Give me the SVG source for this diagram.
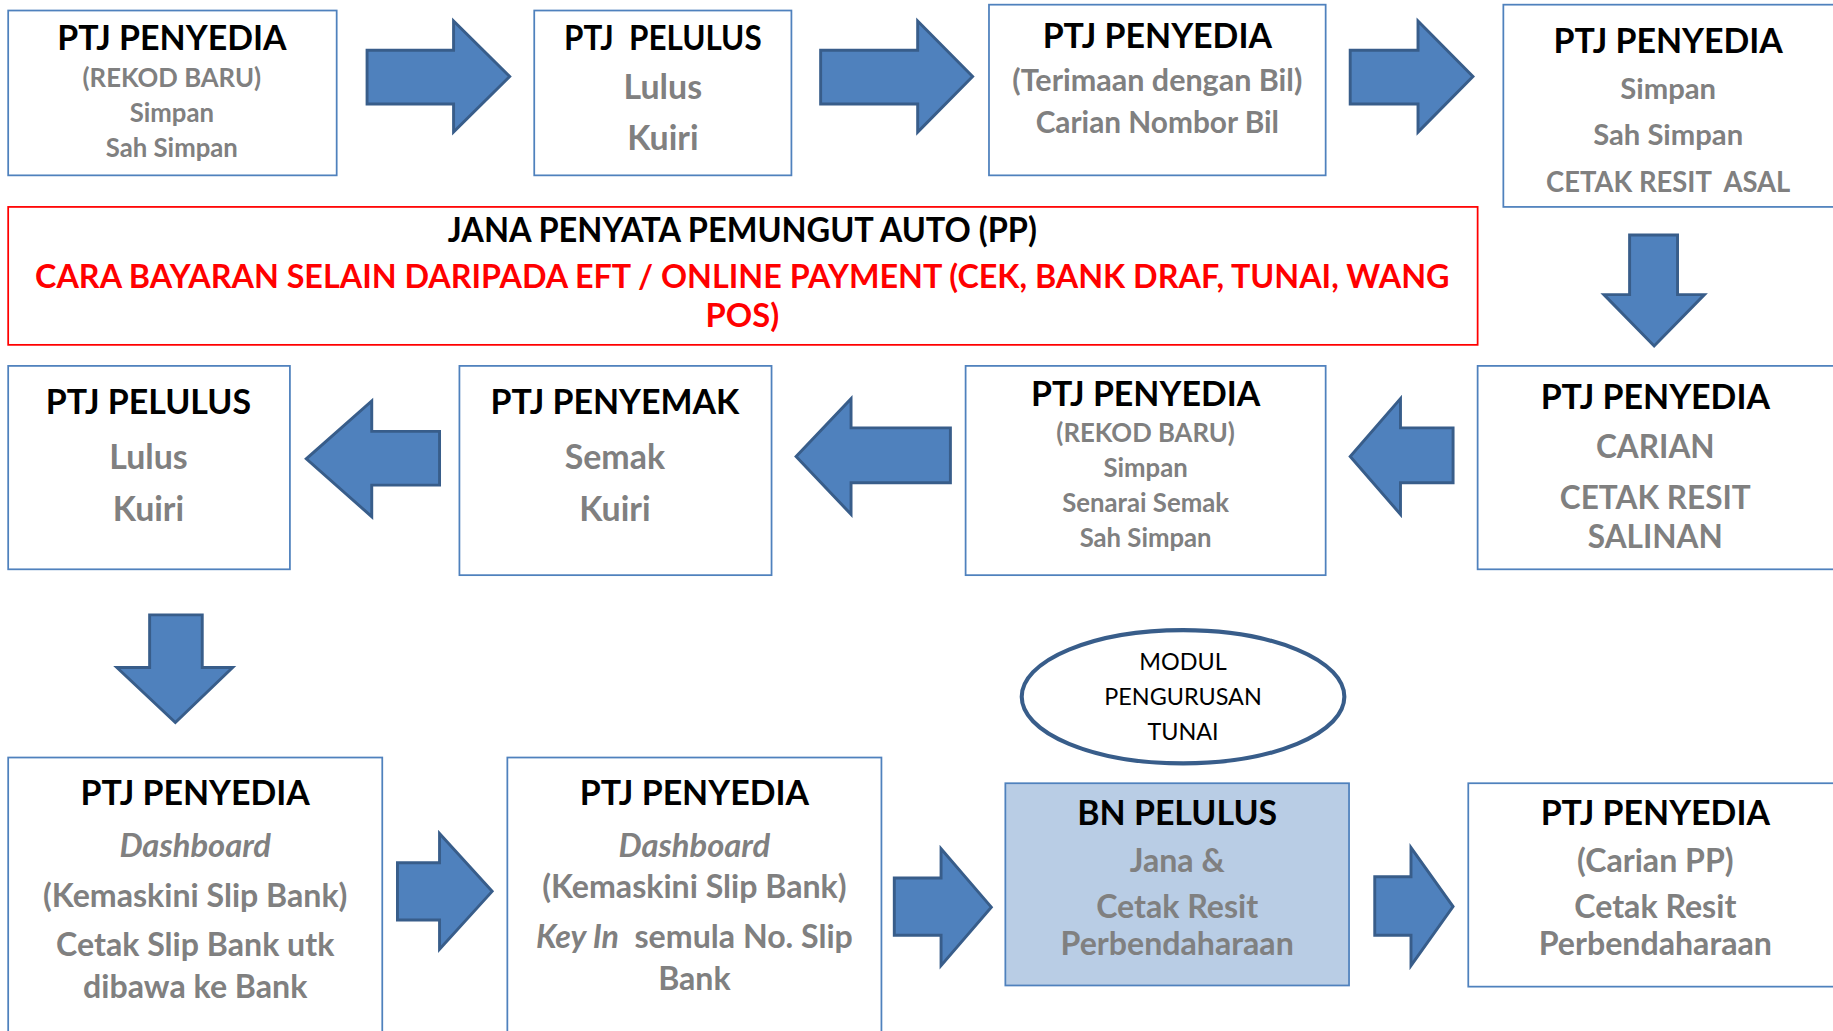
<svg xmlns="http://www.w3.org/2000/svg" width="1833" height="1031" viewBox="0 0 1833 1031">
<defs>
<style>
.box{fill:#ffffff;stroke:#4f81bd;stroke-width:1.5}
.boxk{fill:#b9cde5;stroke:#4f81bd;stroke-width:1.5}
.arr{fill:#4f81bd;stroke:#385d8a;stroke-width:2.5;stroke-linejoin:miter}
.t{font-family:Lato,"Open Sans","Liberation Sans",sans-serif;font-weight:700;fill:#000000;font-size:29px;text-anchor:middle}
.g{font-family:Lato,"Open Sans","Liberation Sans",sans-serif;font-weight:700;fill:#808080;text-anchor:middle}
.r{font-family:Lato,"Open Sans","Liberation Sans",sans-serif;font-weight:700;fill:#ff0000;font-size:28px;text-anchor:middle}
.e{font-family:Lato,"Open Sans","Liberation Sans",sans-serif;font-weight:400;fill:#000000;font-size:20px;text-anchor:middle}
.s22{font-size:22px}.s25{font-size:25px}.s255{font-size:25.5px}.s27{font-size:27px}.s275{font-size:27.5px}.s28{font-size:28px}.s29{font-size:29px}
.i{font-style:italic}
</style>
</defs>
<rect width="1833" height="1031" fill="#ffffff"/>
<g transform="scale(1.16901)">
<g id="connectors">
<polygon class="arr" points="314,43 388,43 388,18 436,65.5 388,113 388,89 314,89"/>
<polygon class="arr" points="702,43 785,43 785,18 832,65.5 785,113 785,89 702,89"/>
<polygon class="arr" points="1155,43 1213,43 1213,18 1260,65.5 1213,113 1213,89 1155,89"/>
<polygon class="arr" points="1394,201 1435,201 1435,252 1458,252 1415,296 1372,252 1394,252"/>
<polygon class="arr" points="1243,366 1198,366 1198,341 1155,390.5 1198,440 1198,413 1243,413"/>
<polygon class="arr" points="813,366 728,366 728,341 681,390.5 728,440 728,413 813,413"/>
<polygon class="arr" points="376,369 318,369 318,343 262,392.5 318,442 318,415 376,415"/>
<polygon class="arr" points="128,526 173,526 173,571 199,571 150,618 100,571 128,571"/>
<polygon class="arr" points="340,738 376,738 376,713 421,762.5 376,812 376,787 340,787"/>
<polygon class="arr" points="765,751 805,751 805,726 848,776 805,826 805,800 765,800"/>
<polygon class="arr" points="1176,750 1207,750 1207,725 1243,775.5 1207,826 1207,800 1176,800"/>
</g>
<g id="nodeA">
<rect class="box" x="7" y="9" width="281" height="141"/>
<text class="t" x="147" y="43">PTJ PENYEDIA</text>
<text class="g s22" x="147" y="74">(REKOD BARU)</text>
<text class="g s22" x="147" y="104">Simpan</text>
<text class="g s22" x="147" y="134">Sah Simpan</text>
</g>
<g id="nodeB">
<rect class="box" x="457" y="9" width="220" height="141"/>
<text class="t" x="567" y="43" xml:space="preserve" textLength="169" lengthAdjust="spacingAndGlyphs">PTJ  PELULUS</text>
<text class="g s29" x="567" y="85">Lulus</text>
<text class="g s29" x="567" y="128">Kuiri</text>
</g>
<g id="nodeC">
<rect class="box" x="846" y="4" width="288" height="146"/>
<text class="t" x="990" y="41">PTJ PENYEDIA</text>
<text class="g s255" x="990" y="78" textLength="248" lengthAdjust="spacingAndGlyphs">(Terimaan dengan Bil)</text>
<text class="g s255" x="990" y="114">Carian Nombor Bil</text>
</g>
<g id="nodeD">
<rect class="box" x="1286" y="4" width="300" height="173"/>
<text class="t" x="1427" y="45">PTJ PENYEDIA</text>
<text class="g s25" x="1427" y="85">Simpan</text>
<text class="g s25" x="1427" y="124">Sah Simpan</text>
<text class="g s25" x="1427" y="164" xml:space="preserve" textLength="209" lengthAdjust="spacingAndGlyphs">CETAK RESIT  ASAL</text>
</g>
<g id="nodeRed">
<rect x="7" y="177" width="1257" height="118" fill="#ffffff" stroke="#ff0000" stroke-width="1.5"/>
<text class="t" x="635" y="207" textLength="504" lengthAdjust="spacingAndGlyphs">JANA PENYATA PEMUNGUT AUTO (PP)</text>
<text class="r" x="635" y="246" textLength="1210" lengthAdjust="spacingAndGlyphs">CARA BAYARAN SELAIN DARIPADA EFT / ONLINE PAYMENT (CEK, BANK DRAF, TUNAI, WANG</text>
<text class="r" x="635" y="280">POS)</text>
</g>
<g id="nodeE">
<rect class="box" x="7" y="313" width="241" height="174"/>
<text class="t" x="127" y="354">PTJ PELULUS</text>
<text class="g s29" x="127" y="401">Lulus</text>
<text class="g s29" x="127" y="446">Kuiri</text>
</g>
<g id="nodeF">
<rect class="box" x="393" y="313" width="267" height="179"/>
<text class="t" x="526" y="354">PTJ PENYEMAK</text>
<text class="g s29" x="526" y="401">Semak</text>
<text class="g s29" x="526" y="446">Kuiri</text>
</g>
<g id="nodeG">
<rect class="box" x="826" y="313" width="308" height="179"/>
<text class="t" x="980" y="347">PTJ PENYEDIA</text>
<text class="g s22" x="980" y="378">(REKOD BARU)</text>
<text class="g s22" x="980" y="408">Simpan</text>
<text class="g s22" x="980" y="438">Senarai Semak</text>
<text class="g s22" x="980" y="468">Sah Simpan</text>
</g>
<g id="nodeH">
<rect class="box" x="1264" y="313" width="320" height="174"/>
<text class="t" x="1416" y="350">PTJ PENYEDIA</text>
<text class="g s27" x="1416" y="392">CARIAN</text>
<text class="g s27" x="1416" y="435">CETAK RESIT</text>
<text class="g s27" x="1416" y="469">SALINAN</text>
</g>
<g id="nodeModul">
<ellipse cx="1012" cy="596" rx="138" ry="57" fill="#ffffff" stroke="#385d8a" stroke-width="3.5"/>
<text class="e" x="1012" y="573">MODUL</text>
<text class="e" x="1012" y="603">PENGURUSAN</text>
<text class="e" x="1012" y="633">TUNAI</text>
</g>
<g id="nodeI">
<rect class="box" x="7" y="648" width="320" height="250"/>
<text class="t" x="167" y="689">PTJ PENYEDIA</text>
<text class="g s28 i" x="167" y="733">Dashboard</text>
<text class="g s275" x="167" y="776">(Kemaskini Slip Bank)</text>
<text class="g s275" x="167" y="818">Cetak Slip Bank utk</text>
<text class="g s275" x="167" y="854">dibawa ke Bank</text>
</g>
<g id="nodeJ">
<rect class="box" x="434" y="648" width="320" height="250"/>
<text class="t" x="594" y="689">PTJ PENYEDIA</text>
<text class="g s28 i" x="594" y="733">Dashboard</text>
<text class="g s275" x="594" y="768">(Kemaskini Slip Bank)</text>
<text class="g s275" x="594" y="811" xml:space="preserve"><tspan class="i">Key In</tspan>  semula No. Slip</text>
<text class="g s275" x="594" y="847">Bank</text>
</g>
<g id="nodeK">
<rect class="boxk" x="860" y="670" width="294" height="173"/>
<text class="t" x="1007" y="706">BN PELULUS</text>
<text class="g s275" x="1007" y="746">Jana &amp;</text>
<text class="g s275" x="1007" y="785">Cetak Resit</text>
<text class="g s275" x="1007" y="817">Perbendaharaan</text>
</g>
<g id="nodeL">
<rect class="box" x="1256" y="670" width="330" height="174"/>
<text class="t" x="1416" y="706">PTJ PENYEDIA</text>
<text class="g s275" x="1416" y="746">(Carian PP)</text>
<text class="g s275" x="1416" y="785">Cetak Resit</text>
<text class="g s275" x="1416" y="817">Perbendaharaan</text>
</g>
</g>
</svg>
